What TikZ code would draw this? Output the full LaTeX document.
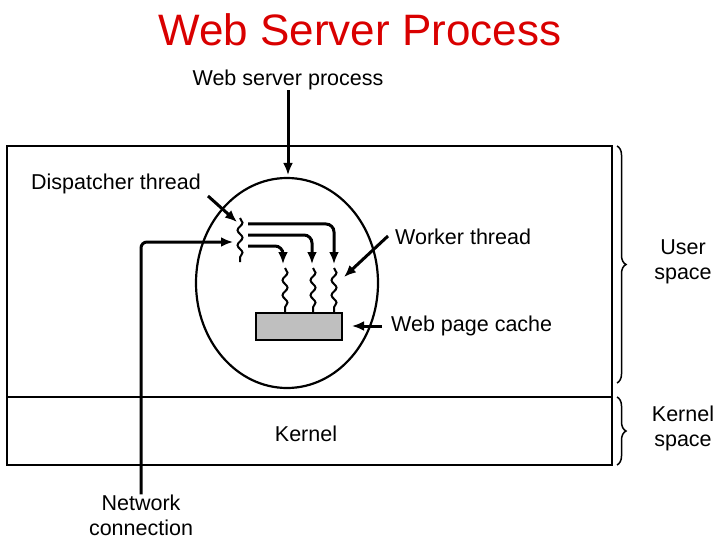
\documentclass[tikz,border=0pt]{standalone}
\usepackage{fontspec}
\setmainfont{Liberation Sans}
\usetikzlibrary{decorations.pathmorphing,decorations.pathreplacing,arrows.meta}
\begin{document}
\begin{tikzpicture}[x=1pt,y=-1pt,
  lbl/.style={font=\fontsize{21.5}{25}\selectfont, inner sep=0pt},
  arr/.style={line width=3pt,-{Latex[length=12pt,width=10pt]}},
  wig/.style={line width=2pt,decorate,decoration={snake,amplitude=2.5pt,segment length=15pt}},
  brace/.style={line width=1.5pt,decorate,decoration={brace,amplitude=9pt}}]
\useasboundingbox (0,0) rectangle (720,540);
\node[text=red!85!black,font=\fontsize{44}{48}\selectfont] (title) at (360,30) {Web Server Process};
\draw[line width=2.2pt] (7,146) rectangle (612,465);
\draw[line width=2pt] (7,397) -- (612,397);
\draw[line width=2.2pt] (287,283) ellipse [x radius=91, y radius=105];
\node[fill=black!25,draw,line width=2pt,minimum width=86pt,minimum height=27pt,inner sep=0pt] (cache) at (299,326.5) {};
\node[lbl] (wsp) at (288,80) {Web server process};
\draw[arr] (wsp.south) -- (288,175);
\node[lbl,anchor=west] (disp) at (31,184) {Dispatcher thread};
\node[lbl,anchor=west] (work) at (395,237) {Worker thread};
\node[lbl,anchor=west] (wpc) at (391,326) {Web page cache};
\node[lbl] (kern) at (306,434) {Kernel};
\node[lbl,align=center] (user) at (683,262) {User\\space};
\node[lbl,align=center] (ks) at (683,428) {Kernel\\space};
\node[lbl,align=center] (net) at (141,515) {Network\\connection};
\coordinate (d1) at (240,218); \coordinate (d2) at (240,262);
\draw[wig] (d1) -- (d2);
\draw[arr] (208,196) -- (237,222);
\draw[line width=3pt,-{Latex[length=12pt,width=10pt]},rounded corners=6pt] (net.north) -- (141,242) -- (233,242);
\draw[arr,rounded corners=8pt] (248,224) -- (334,224) -- (334,264);
\draw[arr,rounded corners=8pt] (248,235) -- (312,235) -- (312,264);
\draw[arr,rounded corners=8pt] (248,246) -- (283,246) -- (283,264);
\foreach \x in {285,313,334} \draw[wig] (\x,268) -- (\x,313);
\draw[arr] (388,236) -- (344,277);
\draw[arr] (382,326) -- (352,326);
\draw[brace] (617,146) -- (617,383);
\draw[brace] (617,397) -- (617,465);
\end{tikzpicture}
\end{document}
